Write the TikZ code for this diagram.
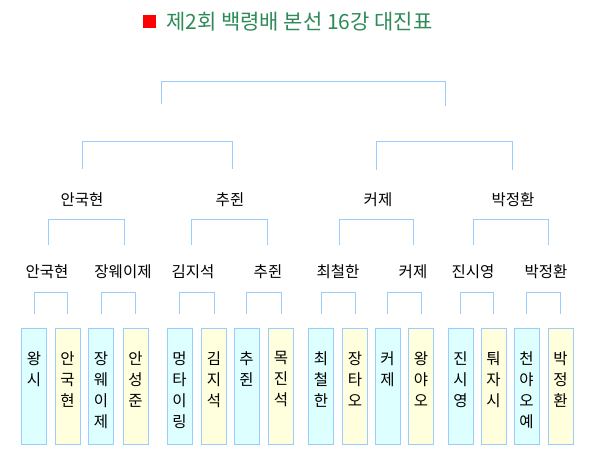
\documentclass[tikz,border=0pt]{standalone}
\usepackage{fontspec}
\newfontfamily\cjk{Noto Sans CJK KR}
\definecolor{lineblue}{HTML}{99CCFF}
\definecolor{boxcyan}{HTML}{DDFFFF}
\definecolor{boxyellow}{HTML}{FFFFDD}
\definecolor{titlegreen}{HTML}{2E8B57}
\begin{document}
\begin{tikzpicture}[x=1pt,y=-1pt,
  br/.style={draw=lineblue,line width=1pt},
  lab/.style={font=\cjk\fontsize{15.5}{17}\selectfont,inner sep=0pt},
  player/.style={draw=lineblue,line width=1pt,minimum width=25pt,minimum height=116pt,inner sep=0pt,anchor=north},
  pname/.style={font=\cjk\fontsize{15.5}{21}\selectfont,align=center,inner sep=0pt,anchor=north},
]
\useasboundingbox[fill=white] (0,0) rectangle (591,465);
% title
\node[fill=red,minimum size=13pt,inner sep=0pt] (sq) at (149.5,21.5) {};
\node[anchor=west,inner sep=0pt,text=titlegreen,font=\cjk\fontsize{21}{22}\selectfont] (title) at (166,22) {제2회 백령배 본선 16강 대진표};
% top bracket
\coordinate (tL) at (161,104);
\coordinate (tR) at (445,106);
\draw[br] (tL) -- ++(0,-22) -| (tR);
% level 2 brackets
\coordinate (aL) at (82,169);
\coordinate (aR) at (232,169);
\coordinate (bL) at (376,170);
\coordinate (bR) at (512,170);
\draw[br] (aL) -- ++(0,-27) -| (aR);
\draw[br] (bL) -- ++(0,-28) -| (bR);
% level 2 labels
\node[lab] (s1) at (82,200) {안국현};
\node[lab] (s2) at (230,200) {추쥔};
\node[lab] (s3) at (378,200) {커제};
\node[lab] (s4) at (513,200) {박정환};
% level 3 brackets
\foreach \i/\l/\r in {1/48/124,2/191/267,3/339/413,4/473/548}{
  \coordinate (qL\i) at (\l,245);
  \coordinate (qR\i) at (\r,245);
  \draw[br] (qL\i) -- ++(0,-26) -| (qR\i);
}
% level 3 labels
\foreach \i/\x/\t in {1/47/안국현,2/123/장웨이제,3/193/김지석,4/268/추쥔,5/338/최철한,6/413/커제,7/473/진시영,8/546/박정환}{
  \node[lab] (r\i) at (\x,272) {\t};
}
% players
\foreach \i/\x/\t/\c in {1/34/왕\\시/boxcyan,2/67.5/안\\국\\현/boxyellow,3/101/장\\웨\\이\\제/boxcyan,4/135.5/안\\성\\준/boxyellow,
  5/179.5/멍\\타\\이\\링/boxcyan,6/214/김\\지\\석/boxyellow,7/246.5/추\\쥔/boxcyan,8/281/목\\진\\석/boxyellow,
  9/321/최\\철\\한/boxcyan,10/355/장\\타\\오/boxyellow,11/387.5/커\\제/boxcyan,12/421/왕\\야\\오/boxyellow,
  13/460.5/진\\시\\영/boxcyan,14/493.5/퉈\\자\\시/boxyellow,15/526.5/천\\야\\오\\예/boxcyan,16/560.5/박\\정\\환/boxyellow}{
  \node[player,fill=\c] (p\i) at (\x,328) {};
  \node[pname] (n\i) at ([yshift=-23pt]p\i.north) {\t};
}
% bottom brackets
\foreach \i/\a/\b in {1/1/2,2/3/4,3/5/6,4/7/8,5/9/10,6/11/12,7/13/14,8/15/16}{
  \coordinate (uL\i) at ([yshift=14pt]p\a.north);
  \coordinate (uR\i) at ([yshift=14pt]p\b.north);
  \draw[br] (uL\i) -- ++(0,-22) -| (uR\i);
}
\end{tikzpicture}
\end{document}
